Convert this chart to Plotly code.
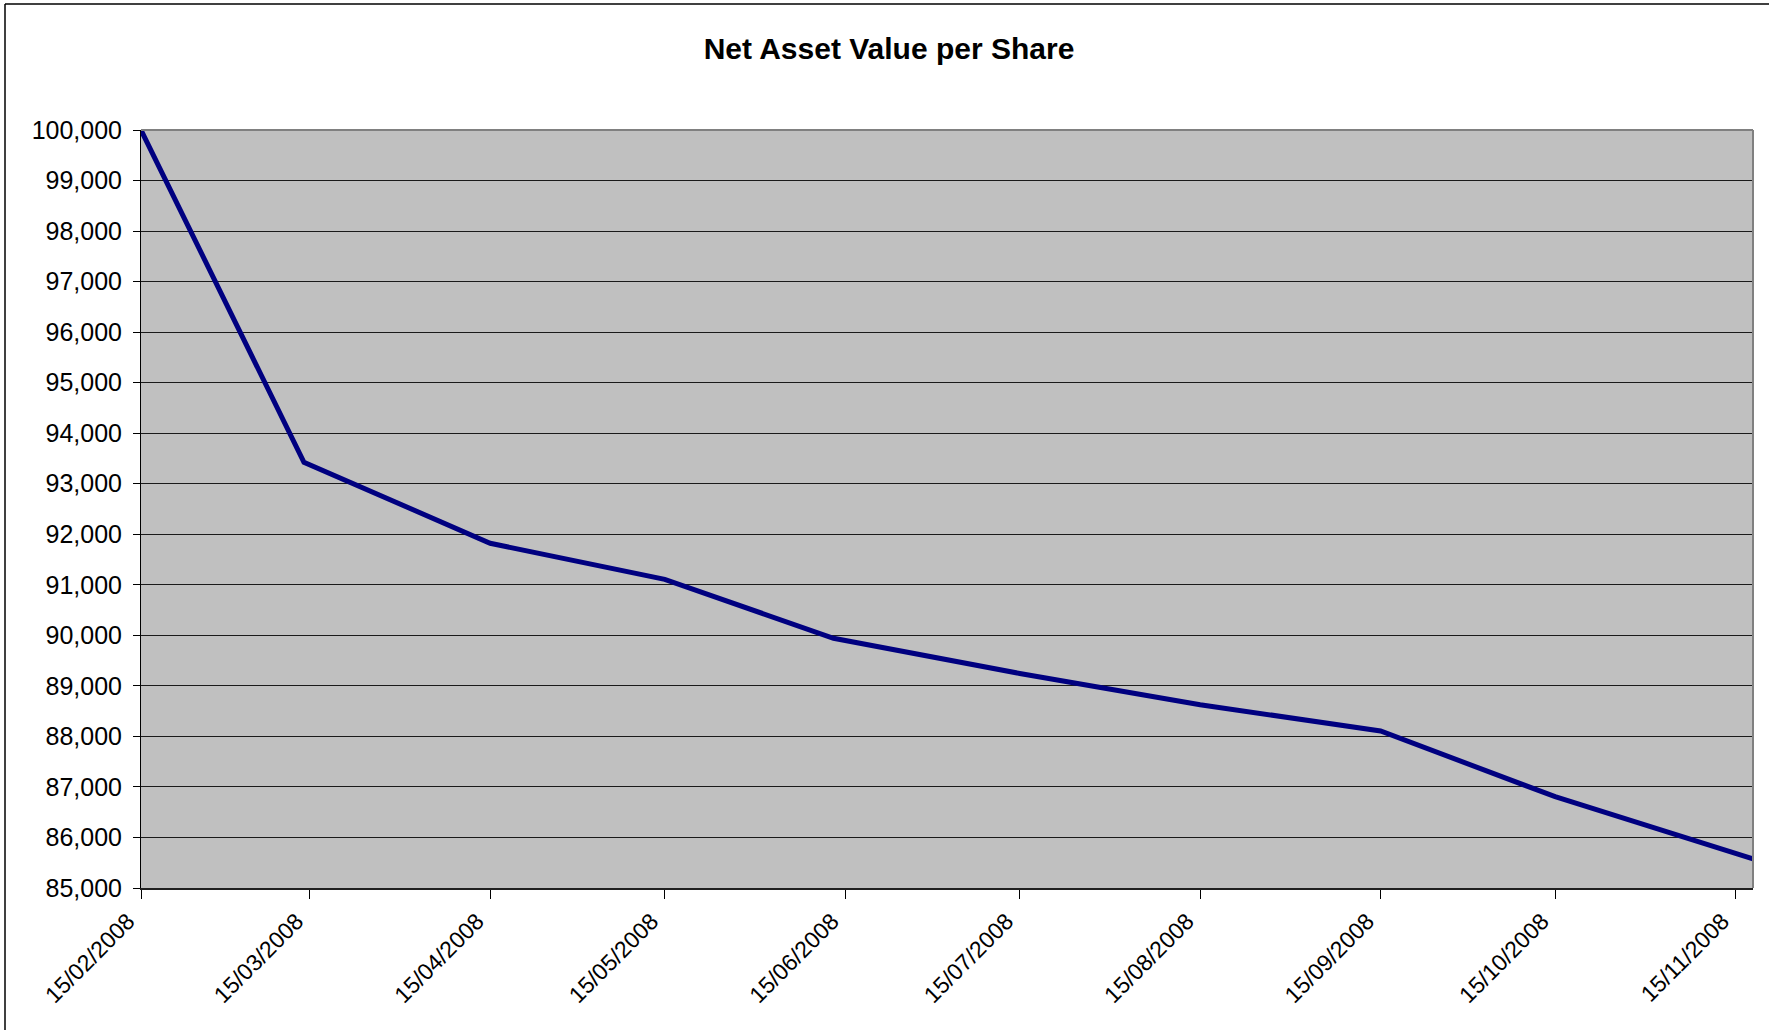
import plotly.graph_objects as go

# Data
dates = ["2008-02-15", "2008-03-14", "2008-04-15", "2008-05-15", "2008-06-13",
         "2008-07-15", "2008-08-15", "2008-09-15", "2008-10-15", "2008-11-18"]
nav = [100000, 93425, 91822, 91109, 89941, 89245, 88628, 88107, 86807, 85574]

tick_dates = ["2008-02-15", "2008-03-15", "2008-04-15", "2008-05-15", "2008-06-15",
              "2008-07-15", "2008-08-15", "2008-09-15", "2008-10-15", "2008-11-15"]
tick_labels = ["15/02/2008", "15/03/2008", "15/04/2008", "15/05/2008", "15/06/2008",
               "15/07/2008", "15/08/2008", "15/09/2008", "15/10/2008", "15/11/2008"]

FONT = "Liberation Sans, Arial, sans-serif"

fig = go.Figure()
fig.add_trace(go.Scatter(
    x=dates, y=nav, mode="lines",
    line=dict(color="#000080", width=5),
    showlegend=False,
))

W, H = 1769, 1030
L, R, T, B = 141, 16, 130, 142
pw, ph = W - L - R, H - T - B

def px_x(p):
    return (p - L) / pw

def px_y(p):
    return (H - B - p) / ph

fig.update_layout(
    width=W, height=H,
    margin=dict(l=L, r=R, t=T, b=B, pad=0),
    paper_bgcolor="white",
    plot_bgcolor="#C0C0C0",
    font=dict(family=FONT, size=24, color="black"),
    title=dict(text="<b>Net Asset Value per Share</b>", x=0.5 + 4.5 / W, xref="container",
               xanchor="center", y=1 - 48 / H, yref="container", yanchor="middle",
               font=dict(family=FONT, size=30, color="black")),
    xaxis=dict(
        type="date",
        range=[dates[0], dates[-1]],
        tickvals=tick_dates, ticktext=tick_labels,
        tickangle=-45,
        ticklabelshift=-13,
        showgrid=False, zeroline=False,
        showline=True, linecolor="#202020", linewidth=1.5,
        ticks="outside", ticklen=9, tickcolor="black", tickwidth=1,
        tickfont=dict(family=FONT, size=23, color="black"),
    ),
    yaxis=dict(
        range=[85000, 100000], dtick=1000, tick0=85000,
        tickformat=",",
        ticklabelstandoff=6,
        showgrid=True, gridcolor="#1a1a1a", gridwidth=1,
        zeroline=False,
        showline=True, linecolor="black", linewidth=1,
        ticks="outside", ticklen=7, tickcolor="black", tickwidth=1,
        tickfont=dict(family=FONT, size=25, color="black"),
    ),
    shapes=[
        # gray plot-area border on top and right
        dict(type="line", xref="paper", yref="paper", x0=0, x1=1, y0=1, y1=1,
             line=dict(color="#808080", width=2), layer="above"),
        dict(type="line", xref="paper", yref="paper", x0=1, x1=1, y0=0, y1=1,
             line=dict(color="#808080", width=2), layer="above"),
        # outer chart border (left and top visible)
        dict(type="line", xref="paper", yref="paper",
             x0=px_x(5), x1=px_x(W + 10), y0=px_y(4), y1=px_y(4),
             line=dict(color="black", width=1.5), layer="above"),
        dict(type="line", xref="paper", yref="paper",
             x0=px_x(5), x1=px_x(5), y0=px_y(4), y1=px_y(H + 10),
             line=dict(color="black", width=1.5), layer="above"),
    ],
)

fig.write_html("out.html", config={"displayModeBar": False},
               post_script="document.body.style.margin='0px';")
